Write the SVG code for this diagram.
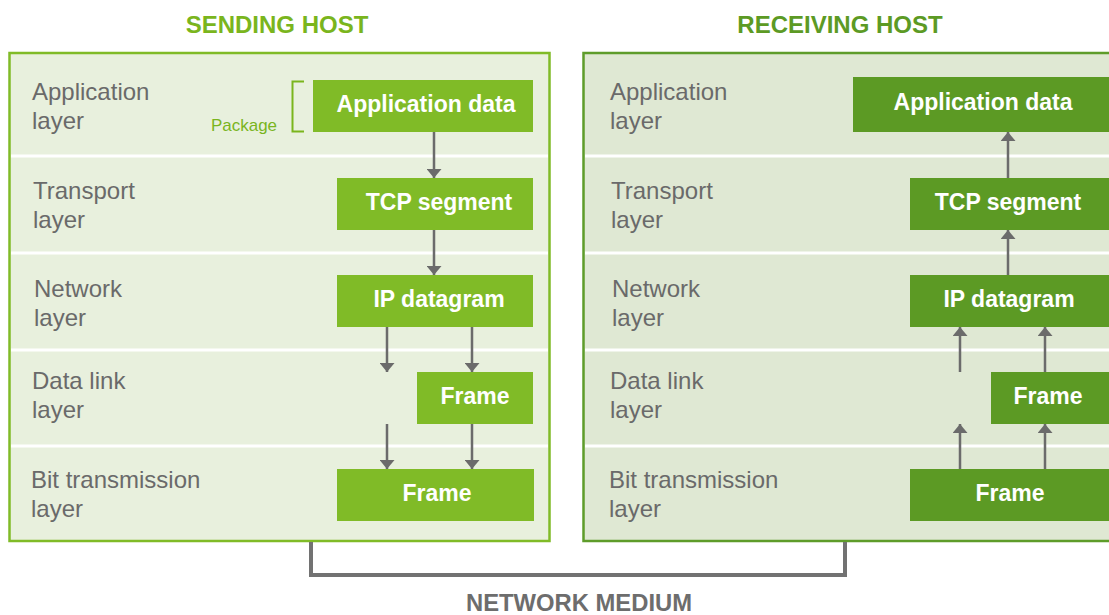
<svg xmlns="http://www.w3.org/2000/svg" width="1109" height="615" viewBox="0 0 1109 615">
<defs>
<style>
.title{font-family:"Liberation Sans",Arial,sans-serif;font-weight:bold;font-size:24px;text-anchor:middle}
.lbl{font-family:"Liberation Sans",Arial,sans-serif;font-size:24px;fill:#6a6a6a}
.bx{font-family:"Liberation Sans",Arial,sans-serif;font-weight:bold;font-size:23px;fill:#ffffff;text-anchor:middle}
.sb{fill:#80bb27}
.rb{fill:#5c9a24}
.sep{stroke:#ffffff;stroke-width:3}
.arr{stroke:#6b6b6b;stroke-width:2.5;fill:none}
</style>
<marker id="ah" viewBox="0 0 6 10" refX="6" refY="5" markerWidth="3.6" markerHeight="6" markerUnits="strokeWidth" orient="auto">
<path d="M0,0 L6,5 L0,10 z" fill="#6b6b6b"/>
</marker>
</defs>
<rect x="0" y="0" width="1109" height="615" fill="#ffffff"/>

<g id="sending-host">
<text class="title" x="277" y="33" fill="#7ab51d">SENDING HOST</text>
<rect x="9.5" y="53" width="540" height="488" fill="#e8f0dd" stroke="#80bb27" stroke-width="2.5"/>
<line class="sep" x1="11" y1="156" x2="548" y2="156"/>
<line class="sep" x1="11" y1="253" x2="548" y2="253"/>
<line class="sep" x1="11" y1="350" x2="548" y2="350"/>
<line class="sep" x1="11" y1="446" x2="548" y2="446"/>
<text class="lbl" x="32" y="100">Application</text>
<text class="lbl" x="32" y="129">layer</text>
<text class="lbl" x="33" y="199">Transport</text>
<text class="lbl" x="33" y="228">layer</text>
<text class="lbl" x="34" y="297">Network</text>
<text class="lbl" x="34" y="326">layer</text>
<text class="lbl" x="32" y="389">Data link</text>
<text class="lbl" x="32" y="418">layer</text>
<text class="lbl" x="31" y="488">Bit transmission</text>
<text class="lbl" x="31" y="517">layer</text>
</g>

<g id="package-bracket">
<path d="M304,81.5 H292.5 V131.5 H304" fill="none" stroke="#7ab51d" stroke-width="2"/>
<text x="244" y="131" font-family="Liberation Sans, Arial, sans-serif" font-size="17px" fill="#7ab51d" text-anchor="middle">Package</text>
</g>

<g id="s-app"><rect class="sb" x="313" y="80" width="220" height="52"/><text class="bx" x="426" y="112">Application data</text></g>
<g id="s-tcp"><rect class="sb" x="337" y="178" width="196" height="52"/><text class="bx" x="439" y="210">TCP segment</text></g>
<g id="s-ip"><rect class="sb" x="337" y="275" width="196" height="52"/><text class="bx" x="439" y="307">IP datagram</text></g>
<g id="s-frame-dl"><rect class="sb" x="417" y="372" width="116" height="52"/><text class="bx" x="475" y="404">Frame</text></g>
<g id="s-frame-bit"><rect class="sb" x="337" y="469" width="197" height="52"/><text class="bx" x="437" y="501">Frame</text></g>

<g id="receiving-host">
<text class="title" x="840" y="33" fill="#5c9a24">RECEIVING HOST</text>
<rect x="583.5" y="53" width="540" height="488" fill="#dfe8d3" stroke="#5e9c2a" stroke-width="2.5"/>
<line class="sep" x1="585" y1="156" x2="1109" y2="156"/>
<line class="sep" x1="585" y1="253" x2="1109" y2="253"/>
<line class="sep" x1="585" y1="350" x2="1109" y2="350"/>
<line class="sep" x1="585" y1="446" x2="1109" y2="446"/>
<text class="lbl" x="610" y="100">Application</text>
<text class="lbl" x="610" y="129">layer</text>
<text class="lbl" x="611" y="199">Transport</text>
<text class="lbl" x="611" y="228">layer</text>
<text class="lbl" x="612" y="297">Network</text>
<text class="lbl" x="612" y="326">layer</text>
<text class="lbl" x="610" y="389">Data link</text>
<text class="lbl" x="610" y="418">layer</text>
<text class="lbl" x="609" y="488">Bit transmission</text>
<text class="lbl" x="609" y="517">layer</text>
</g>

<g id="r-app"><rect class="rb" x="853" y="77" width="260" height="55"/><text class="bx" x="983" y="110">Application data</text></g>
<g id="r-tcp"><rect class="rb" x="910" y="178" width="200" height="52"/><text class="bx" x="1008" y="210">TCP segment</text></g>
<g id="r-ip"><rect class="rb" x="910" y="275" width="200" height="52"/><text class="bx" x="1009" y="307">IP datagram</text></g>
<g id="r-frame-dl"><rect class="rb" x="991" y="372" width="119" height="52"/><text class="bx" x="1048" y="404">Frame</text></g>
<g id="r-frame-bit"><rect class="rb" x="910" y="469" width="200" height="52"/><text class="bx" x="1010" y="501">Frame</text></g>

<g id="connectors">
<line class="arr" x1="434" y1="132" x2="434" y2="178" marker-end="url(#ah)"/>
<line class="arr" x1="434" y1="230" x2="434" y2="275" marker-end="url(#ah)"/>
<line class="arr" x1="387" y1="327" x2="387" y2="372" marker-end="url(#ah)"/>
<line class="arr" x1="472" y1="327" x2="472" y2="372" marker-end="url(#ah)"/>
<line class="arr" x1="387" y1="424" x2="387" y2="469" marker-end="url(#ah)"/>
<line class="arr" x1="472" y1="424" x2="472" y2="469" marker-end="url(#ah)"/>
<line class="arr" x1="1008" y1="178" x2="1008" y2="132" marker-end="url(#ah)"/>
<line class="arr" x1="1008" y1="275" x2="1008" y2="230" marker-end="url(#ah)"/>
<line class="arr" x1="960" y1="372" x2="960" y2="327" marker-end="url(#ah)"/>
<line class="arr" x1="1045" y1="372" x2="1045" y2="327" marker-end="url(#ah)"/>
<line class="arr" x1="960" y1="469" x2="960" y2="424" marker-end="url(#ah)"/>
<line class="arr" x1="1045" y1="469" x2="1045" y2="424" marker-end="url(#ah)"/>
<path d="M311,542 V575 H845 V542" fill="none" stroke="#727272" stroke-width="4"/>
</g>

<g id="network-medium">
<text x="579" y="611" font-family="Liberation Sans, Arial, sans-serif" font-weight="bold" font-size="23.8px" fill="#6d6d6d" text-anchor="middle">NETWORK MEDIUM</text>
</g>
</svg>
